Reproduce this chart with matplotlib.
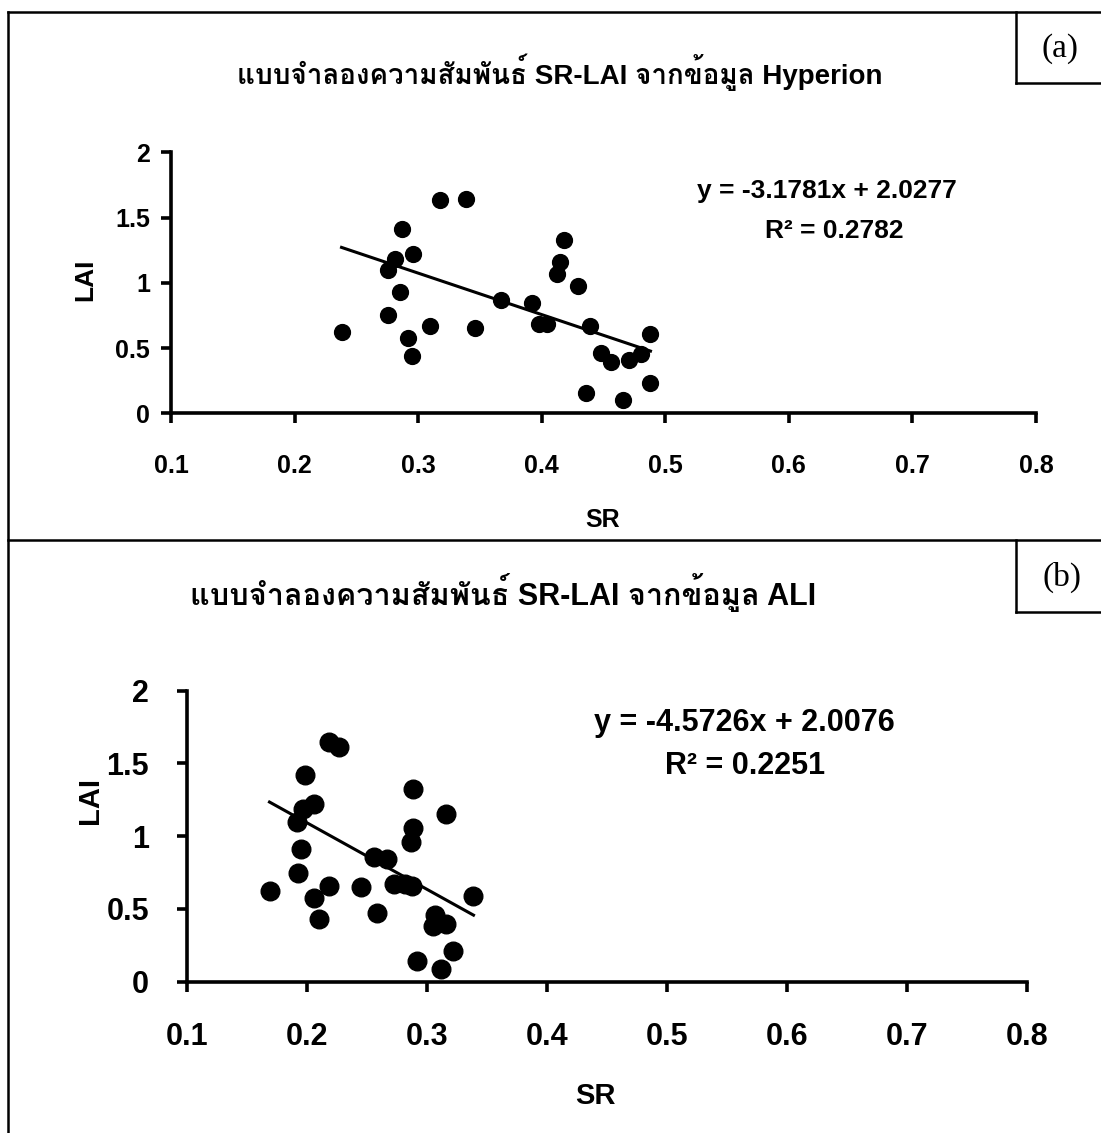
import matplotlib
matplotlib.use("Agg")
import matplotlib.pyplot as plt
from matplotlib import font_manager
from matplotlib.ft2font import FT2Font
from matplotlib.lines import Line2D
import numpy as np

# ---- data ----
# (a) Hyperion
sr_hyp = [0.238, 0.318, 0.339, 0.287, 0.281, 0.276, 0.296, 0.285, 0.276, 0.292,
          0.295, 0.310, 0.346, 0.367, 0.392, 0.398, 0.404, 0.412, 0.415, 0.418,
          0.429, 0.439, 0.448, 0.456, 0.471, 0.480, 0.488, 0.488, 0.436, 0.466]
lai_hyp = [0.623, 1.635, 1.645, 1.41, 1.18, 1.10, 1.22, 0.93, 0.756, 0.577,
           0.437, 0.669, 0.651, 0.868, 0.843, 0.685, 0.685, 1.065, 1.162, 1.326,
           0.976, 0.669, 0.465, 0.391, 0.409, 0.452, 0.610, 0.230, 0.158, 0.102]
# (b) ALI
sr_ali = [0.169, 0.219, 0.227, 0.199, 0.206, 0.197, 0.192, 0.195, 0.193, 0.206,
          0.210, 0.219, 0.245, 0.256, 0.267, 0.259, 0.273, 0.282, 0.288, 0.289,
          0.289, 0.287, 0.316, 0.339, 0.307, 0.305, 0.316, 0.322, 0.292, 0.312]
lai_ali = [0.623, 1.647, 1.615, 1.420, 1.221, 1.184, 1.100, 0.914, 0.745, 0.577,
           0.428, 0.660, 0.648, 0.859, 0.843, 0.470, 0.671, 0.669, 0.657, 1.324,
           1.058, 0.958, 1.155, 0.591, 0.458, 0.385, 0.396, 0.213, 0.144, 0.085]

fit_hyp = (-3.1781, 2.0277)
fit_ali = (-4.5726, 2.0076)
r2_hyp = 0.2782
r2_ali = 0.2251

x_ticks = [0.1, 0.2, 0.3, 0.4, 0.5, 0.6, 0.7, 0.8]
x_labels = ["0.1", "0.2", "0.3", "0.4", "0.5", "0.6", "0.7", "0.8"]
y_ticks = [0, 0.5, 1, 1.5, 2]
y_labels = ["0", "0.5", "1", "1.5", "2"]

title_hyp = "แบบจำลองความสัมพันธ์ SR-LAI จากข้อมูล Hyperion"
title_ali = "แบบจำลองความสัมพันธ์ SR-LAI จากข้อมูล ALI"


# find some installed font that has Thai glyphs
def find_thai_font():
    for f in font_manager.fontManager.ttflist:
        try:
            if 0x0E01 in FT2Font(f.fname).get_charmap():
                return f.name
        except Exception:
            pass
    return None


thai = find_thai_font()
title_family = ["Liberation Sans", thai] if thai else ["Liberation Sans", "DejaVu Sans"]
plt.rcParams["font.family"] = ["Liberation Sans", "DejaVu Sans"]
plt.rcParams["font.weight"] = "bold"

W, H = 1101, 1133
fig = plt.figure(figsize=(W / 100, H / 100), dpi=100)


def fx(px):
    return px / W


def fy(py):
    return 1 - py / H


def draw_panel(rect, sr, lai, fit, r2, fs, eq_fs, ms, eq_pos, r2_pos, pad_x, pad_y):
    ax = fig.add_axes(rect)
    ax.scatter(sr, lai, s=ms, color="black", zorder=3, clip_on=False)
    xs = np.array([min(sr), max(sr)])
    ax.plot(xs, fit[0] * xs + fit[1], color="black", lw=2.2)
    ax.set_xlim(0.1, 0.8)
    ax.set_ylim(0, 2)
    ax.set_xticks(x_ticks)
    ax.set_xticklabels(x_labels)
    ax.set_yticks(y_ticks)
    ax.set_yticklabels(y_labels)
    for s in ["top", "right"]:
        ax.spines[s].set_visible(False)
    for s in ["left", "bottom"]:
        ax.spines[s].set_linewidth(2.6)
    ax.tick_params(axis="both", direction="out", width=2.6, length=7, labelsize=fs)
    ax.tick_params(axis="x", pad=pad_x)
    ax.tick_params(axis="y", pad=pad_y)
    ax.patch.set_alpha(0)
    sign = "-" if fit[0] < 0 else "+"
    ax.text(eq_pos[0], eq_pos[1], f"y = {sign}{abs(fit[0]):.4f}x + {fit[1]:.4f}",
            fontsize=eq_fs, fontweight="bold", ha="center", va="center")
    ax.text(r2_pos[0], r2_pos[1], f"R² = {r2:.4f}",
            fontsize=eq_fs, fontweight="bold", ha="center", va="center")
    return ax


# panel (a)
draw_panel([fx(171), fy(413.3), fx(1036 - 171), 261 / H], sr_hyp, lai_hyp, fit_hyp, r2_hyp,
           18, 19, 130, (0.631, 1.70), (0.637, 1.40), 22, 8)
# panel (b)
draw_panel([fx(186.7), fy(981.7), fx(840), 291 / H], sr_ali, lai_ali, fit_ali, r2_ali,
           22, 22, 180, (0.565, 1.78), (0.565, 1.48), 22, 20)

# titles and axis labels
fig.text(fx(560), fy(72), title_hyp, family=title_family, fontsize=20, fontweight="bold",
         ha="center", va="center")
fig.text(fx(503), fy(592), title_ali, family=title_family, fontsize=22, fontweight="bold",
         ha="center", va="center")
fig.text(fx(85), fy(280), "LAI", fontsize=19, fontweight="bold", rotation=90,
         ha="center", va="center")
fig.text(fx(90), fy(800), "LAI", fontsize=21, fontweight="bold", rotation=90,
         ha="center", va="center")
fig.text(fx(603), fy(520), "SR", fontsize=18, fontweight="bold", ha="center", va="center")
fig.text(fx(595), fy(1096), "SR", fontsize=21, fontweight="bold", ha="center", va="center")

# frame, separator and the (a)/(b) boxes
frame = [((8, 8), (12, H)), ((8, W), (12, 12)), ((8, W), (540, 540)),
         ((1016, 1016), (12, 83)), ((1016, W), (83, 83)),
         ((1016, 1016), (540, 612)), ((1016, W), (612, 612))]
for xs, ys in frame:
    fig.add_artist(Line2D([fx(x) for x in xs], [fy(y) for y in ys], color="black", lw=1.8))

fig.text(fx(1060), fy(49), "(a)", family="Liberation Serif", fontweight="normal",
         fontsize=24, ha="center", va="center")
fig.text(fx(1062), fy(577), "(b)", family="Liberation Serif", fontweight="normal",
         fontsize=24, ha="center", va="center")

fig.savefig("out.png", dpi=100)
